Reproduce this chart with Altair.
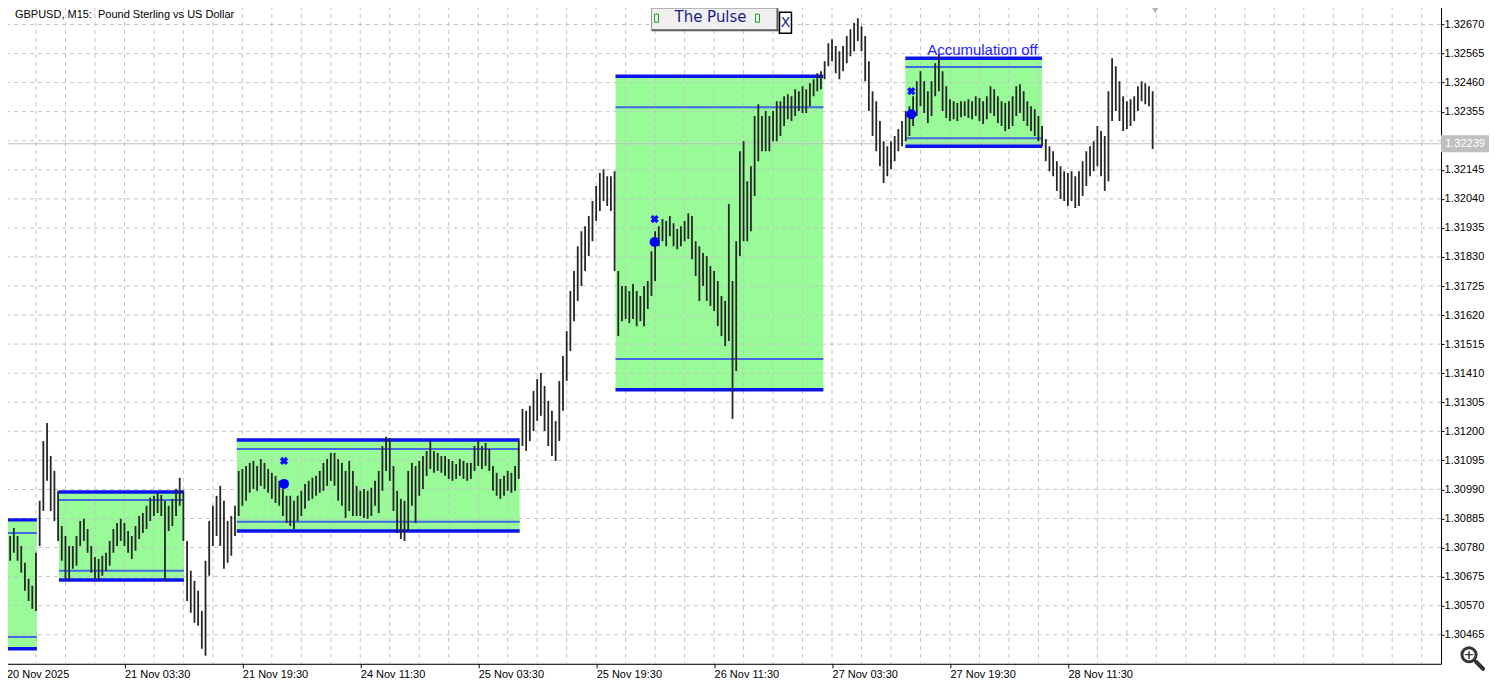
import altair as alt
import pandas as pd

# ---- price data: 30-minute sampling (every 2nd M15 bar), prices in 1/100000 ----
high_pts = [
    130786,130822,130851,130822,130786,130725,130667,130642,130761,130949,
    131165,131230,131111,131057,130985,130858,130822,130786,130786,130822,
    130876,130884,130847,130786,130746,130739,130750,130761,130804,130847,
    130869,130884,130869,130840,130822,130858,130894,130905,130931,130960,
    130967,130978,130970,130949,130931,130956,130992,131032,130985,130804,
    130696,130660,130624,130551,130732,130876,130931,130967,131003,130949,
    130876,130894,130931,131057,131064,131075,131086,131093,131075,131100,
    131086,131064,131050,131039,131021,130992,130967,130967,130949,130967,
    130985,131010,131021,131032,131039,131057,131086,131100,131122,131122,
    131100,131086,131057,131093,131057,131003,130985,130992,130985,130996,
    131021,131057,131147,131180,131176,131075,130985,130956,130949,131057,
    131086,131075,131093,131111,131129,131165,131129,131122,131111,131111,
    131100,131093,131082,131100,131093,131086,131086,131147,131165,131147,
    131158,131136,131075,131050,131028,131039,131057,131050,131075,131165,
    131281,131274,131292,131346,131389,131411,131364,131310,131274,131237,
    131382,131472,131562,131707,131779,131869,131923,131941,131978,132032,
    132086,132133,132147,132122,132122,132140,131779,131725,131725,131707,
    131732,131707,131689,131725,131743,131851,131923,131941,131967,131960,
    131978,131952,131931,131941,131960,131988,131978,131887,131869,131844,
    131833,131797,131779,131743,131689,131671,132021,131743,131887,132212,
    132248,132104,132158,132339,132382,132339,132357,132339,132357,132393,
    132393,132411,132418,132411,132436,132429,132447,132436,132458,132472,
    132494,132501,132537,132602,132617,132592,132573,132592,132628,132653,
    132675,132693,132664,132628,132537,132429,132393,132321,132248,132230,
    132248,132267,132292,132321,132357,132375,132411,132465,132501,132465,
    132429,132465,132530,132563,132501,132447,132400,132393,132386,132393,
    132393,132400,132393,132411,132404,132393,132411,132447,132436,132411,
    132393,132386,132393,132411,132447,132454,132429,132393,132375,132364,
    132339,132303,132256,132230,132212,132176,132158,132140,132133,132140,
    132122,132140,132176,132212,132230,132248,132303,132285,132267,132429,
    132548,132519,132465,132411,132393,132400,132411,132447,132465,132458,
    132447,132429,
]
low_pts = [
    130703,130732,130761,130732,130689,130624,130587,130559,130551,130786,
    130912,131021,130912,130876,130804,130732,130667,130660,130703,130714,
    130786,130804,130761,130689,130667,130660,130678,130696,130714,130761,
    130786,130804,130786,130761,130739,130768,130811,130833,130847,130876,
    130894,130905,130894,130660,130840,130858,130894,130931,130804,130587,
    130544,130508,130497,130414,130389,130678,130786,130822,130786,130703,
    130725,130750,130822,130894,130931,130949,130978,130992,130985,131003,
    130992,130978,130956,130941,130931,130894,130869,130858,130847,130876,
    130894,130920,130949,130956,130967,130978,130985,131003,131021,131003,
    130949,130931,130887,130912,130894,130894,130894,130887,130884,130894,
    130931,130905,130985,131057,131021,130912,130833,130811,130804,130840,
    130931,130869,130967,130992,131039,131064,131050,131057,131050,131039,
    131028,131021,131028,131039,131028,131021,131028,131057,131075,131064,
    131075,131057,130985,130967,130956,130967,130985,130978,130985,131028,
    131147,131129,131165,131201,131237,131256,131201,131147,131111,131093,
    131165,131274,131382,131490,131598,131671,131725,131779,131833,131887,
    131960,131996,132032,132014,131996,131779,131544,131598,131606,131591,
    131606,131580,131598,131580,131642,131689,131743,131869,131887,131869,
    131905,131869,131858,131869,131887,131895,131822,131761,131671,131725,
    131671,131653,131635,131580,131544,131508,131526,131245,131418,131833,
    131887,131887,131923,132050,132176,132212,132212,132212,132248,132248,
    132267,132303,132328,132321,132339,132357,132350,132350,132375,132411,
    132429,132436,132472,132519,132537,132494,132472,132501,132530,132555,
    132573,132610,132573,132465,132357,132267,132212,132158,132097,132122,
    132147,132176,132212,132230,132248,132267,132303,132339,132375,132350,
    132314,132339,132411,132429,132357,132332,132321,132328,132321,132335,
    132339,132332,132328,132339,132321,132310,132328,132350,132339,132314,
    132303,132285,132292,132303,132339,132350,132321,132303,132285,132267,
    132248,132230,132176,132140,132122,132068,132039,132032,132014,132032,
    132007,132014,132050,132086,132122,132140,132158,132122,132068,132104,
    132321,132357,132321,132285,132292,132303,132321,132357,132393,132382,
    132375,132220,
]
bars_per_sample = 2  # M15 bars between stored samples

x_label_pos = [0, 64, 128, 192, 256, 320, 384, 448, 512, 576]
x_label_text = ["20 Nov 2025", "21 Nov 03:30", "21 Nov 19:30", "24 Nov 11:30",
                "25 Nov 03:30", "25 Nov 19:30", "26 Nov 11:30", "27 Nov 03:30",
                "27 Nov 19:30", "28 Nov 11:30"]
y_grid = [1.30465, 1.30570, 1.30675, 1.30780, 1.30885, 1.30990, 1.31095, 1.31200,
          1.31305, 1.31410, 1.31515, 1.31620, 1.31725, 1.31830, 1.31935, 1.32040,
          1.32145, 1.32250, 1.32355, 1.32460, 1.32565, 1.32670]
y_hidden_label = 1.32250
last_price = 1.32239

box_start = [-6, 28.5, 125, 330.5, 487.8]
box_end = [16.5, 96.3, 278.5, 443.3, 562]
box_top = [1.30880, 1.30981, 1.31169, 1.32483, 1.32548]
box_top_thin = [1.30833, 1.30952, 1.31136, 1.32371, 1.32516]
box_bot_thin = [1.30457, 1.30696, 1.30873, 1.31461, 1.32259]
box_bot = [1.30414, 1.30663, 1.30840, 1.31350, 1.32230]

sig_x = [150.6, 351.7, 491]
sig_cross = [1.31093, 1.31967, 1.32429]
sig_dot = [1.31010, 1.31884, 1.32346]

acc_text = "Accumulation off"
acc_x = 529.6
acc_y = 1.32577

title_text = "GBPUSD, M15:\u00a0 Pound Sterling vs US Dollar"

# ---- layout ----
W, H = 1436, 658
X_MIN, X_MAX = -0.27, 778.5
Y_MIN, Y_MAX = 1.30360, 1.32736
FONT = "Liberation Sans"

xs = alt.Scale(domain=[X_MIN, X_MAX], nice=False, zero=False)
ys = alt.Scale(domain=[Y_MIN, Y_MAX], nice=False, zero=False)

labels_js = "[" + ",".join(f"'{t}'" for t in x_label_text) + "]"
pos_js = "[" + ",".join(str(p) for p in x_label_pos) + "]"
xax = alt.Axis(values=x_label_pos, labelExpr=f"{labels_js}[indexof({pos_js}, datum.value)]",
               labelAlign="left", labelFont=FONT, labelFontSize=11, labelColor="black",
               tickSize=4, tickColor="black", domainColor="black", grid=False, title=None,
               labelPadding=1, labelFlush=False, labelOverlap=False)
yax = alt.Axis(orient="right", values=[v for v in y_grid if v != y_hidden_label], format=".5f",
               labelFont=FONT, labelFontSize=11, labelColor="black", tickSize=3,
               tickColor="black", domainColor="black", grid=False, title=None,
               labelPadding=0, labelOverlap=False)

X = lambda f: alt.X(f, type="quantitative", scale=xs, axis=xax)
Y = lambda f: alt.Y(f, type="quantitative", scale=ys, axis=yax)

bars = pd.DataFrame({
    "i": [k * bars_per_sample for k in range(len(high_pts))],
    "hi": [h / 1e5 for h in high_pts],
    "lo": [l / 1e5 for l in low_pts],
})
boxes = pd.DataFrame({"s": box_start, "e": box_end, "t": box_top, "b": box_bot})
lines = pd.DataFrame(
    [{"s": s, "e": e, "p": p, "kind": "thick"} for s, e, p in zip(box_start, box_end, box_top)]
    + [{"s": s, "e": e, "p": p, "kind": "thick"} for s, e, p in zip(box_start, box_end, box_bot)]
    + [{"s": s, "e": e, "p": p, "kind": "thin"} for s, e, p in zip(box_start, box_end, box_top_thin)]
    + [{"s": s, "e": e, "p": p, "kind": "thin"} for s, e, p in zip(box_start, box_end, box_bot_thin)]
)
thick = lines[lines.kind == "thick"]
thin = lines[lines.kind == "thin"]
sigs = pd.DataFrame({"i": sig_x, "c": sig_cross, "d": sig_dot})
hgrid = pd.DataFrame({"p": y_grid})
vgrid = pd.DataFrame({"i": list(range(16, int(X_MAX) + 1, 16))})
cur = pd.DataFrame({"p": [last_price], "t": [f"{last_price:.5f}"]})

layers = []
# accumulation boxes
layers.append(alt.Chart(boxes).mark_rect(color="#98fb98", clip=True).encode(
    x=X("s"), x2="e", y=Y("b"), y2="t"))
# grid
layers.append(alt.Chart(hgrid).mark_rule(color="#c4c4c4", strokeDash=[4, 4], strokeWidth=1).encode(y=Y("p")))
layers.append(alt.Chart(vgrid).mark_rule(color="#c4c4c4", strokeDash=[4, 4], strokeWidth=1).encode(x=X("i")))
# current price line
layers.append(alt.Chart(cur).mark_rule(color="#c0c0c0", strokeWidth=1).encode(y=Y("p")))
# box lines
layers.append(alt.Chart(thin).mark_rule(color="#4169e1", strokeWidth=2, clip=True).encode(
    x=X("s"), x2="e", y=Y("p")))
layers.append(alt.Chart(thick).mark_rule(color="#0a14f0", strokeWidth=3.5, clip=True).encode(
    x=X("s"), x2="e", y=Y("p")))
# price bars
layers.append(alt.Chart(bars).mark_rule(color="#262626", strokeWidth=1.8, clip=True).encode(
    x=X("i"), y=Y("lo"), y2="hi"))
# signals
layers.append(alt.Chart(sigs).mark_point(shape="cross", angle=45, filled=True, size=70,
                                          color="#1010ff", opacity=1).encode(x=X("i"), y=Y("c")))
layers.append(alt.Chart(sigs).mark_circle(size=100, color="#0000ff", opacity=1).encode(
    x=X("i"), y=Y("d")))
# label
layers.append(alt.Chart(pd.DataFrame({"i": [acc_x], "p": [acc_y], "t": [acc_text]})).mark_text(
    font=FONT, fontSize=15, color="#1f1fff", align="center", baseline="middle").encode(
    x=X("i"), y=Y("p"), text="t:N"))
# current price tag on the axis
layers.append(alt.Chart(cur).mark_point(shape="M-1,-0.33L1,-0.33L1,0.33L-1,0.33Z", size=2116,
                                         filled=True, fill="#c0c0c0", stroke="#c0c0c0", opacity=1).encode(
    x=alt.value(1460), y=Y("p")))
layers.append(alt.Chart(cur).mark_text(font=FONT, fontSize=11, color="white", align="center",
                                        baseline="middle").encode(x=alt.value(1460), y=Y("p"), text="t:N"))
# chart title
layers.append(alt.Chart(pd.DataFrame({"t": [title_text]})).mark_text(
    font=FONT, fontSize=11, color="black", align="left", baseline="middle").encode(
    x=alt.value(9), y=alt.value(9), text="t:N"))
# "The Pulse" panel
one = pd.DataFrame({"t": ["The Pulse"]})
layers.append(alt.Chart(one).mark_point(shape="M-1,-0.175L1,-0.175L1,0.175L-1,0.175Z", size=15876,
                                         filled=True, fill="#f0f0f0", stroke="#9a9a9a", strokeWidth=1,
                                         opacity=1).encode(x=alt.value(709), y=alt.value(13)))
layers.append(alt.Chart(one).mark_rule(color="#606060", strokeWidth=2).encode(
    x=alt.value(646), x2=alt.value(773), y=alt.value(24)))
layers.append(alt.Chart(one).mark_rule(color="#606060", strokeWidth=2).encode(
    x=alt.value(772), y=alt.value(2), y2=alt.value(25)))
layers.append(alt.Chart(one).mark_text(font="DejaVu Sans", fontSize=15, color="#1c1c8c",
                                        align="center", baseline="middle").encode(
    x=alt.value(705), y=alt.value(11), text="t:N"))
layers.append(alt.Chart(pd.DataFrame({"x": [651, 752]})).mark_point(
    shape="M-0.5,-1L0.5,-1L0.5,1L-0.5,1Z", size=64, filled=False, stroke="#1a9a1a",
    strokeWidth=1, opacity=1).encode(x=alt.X("x:Q", scale=None), y=alt.value(12)))
layers.append(alt.Chart(one).mark_point(shape="M-0.571,-1L0.571,-1L0.571,1L-0.571,1Z", size=441,
                                         filled=True, fill="white", stroke="black", strokeWidth=1.5,
                                         opacity=1).encode(x=alt.value(780), y=alt.value(16.5)))
layers.append(alt.Chart(pd.DataFrame({"t": ["X"]})).mark_text(
    font="DejaVu Sans", fontSize=14, color="#1c1c8c", align="center", baseline="middle").encode(
    x=alt.value(780), y=alt.value(17), text="t:N"))
# chart shift marker
layers.append(alt.Chart(one).mark_point(shape="triangle-down", size=50, filled=True,
                                         color="#b0b0b0", opacity=1).encode(
    x=alt.value(1150), y=alt.value(4)))
# zoom icon
layers.append(alt.Chart(one).mark_point(shape="circle", size=200, filled=False, stroke="#333333",
                                         strokeWidth=3, opacity=1).encode(x=alt.value(1464), y=alt.value(649)))
layers.append(alt.Chart(pd.DataFrame({"t": ["+"]})).mark_text(
    font="DejaVu Sans", fontSize=13, fontWeight="bold", color="#333333", align="center",
    baseline="middle").encode(x=alt.value(1464), y=alt.value(649), text="t:N"))
layers.append(alt.Chart(one).mark_rule(color="#333333", strokeWidth=4, strokeCap="round").encode(
    x=alt.value(1471), x2=alt.value(1478), y=alt.value(656), y2=alt.value(663)))

chart = alt.layer(*layers).properties(
    width=W, height=H, padding={"left": -3, "top": -3, "right": 0, "bottom": 0}
).configure_view(stroke="#8a8a8a", strokeWidth=1).configure(background="white")

chart.save("out.html", embed_options={"renderer": "svg", "actions": False})
